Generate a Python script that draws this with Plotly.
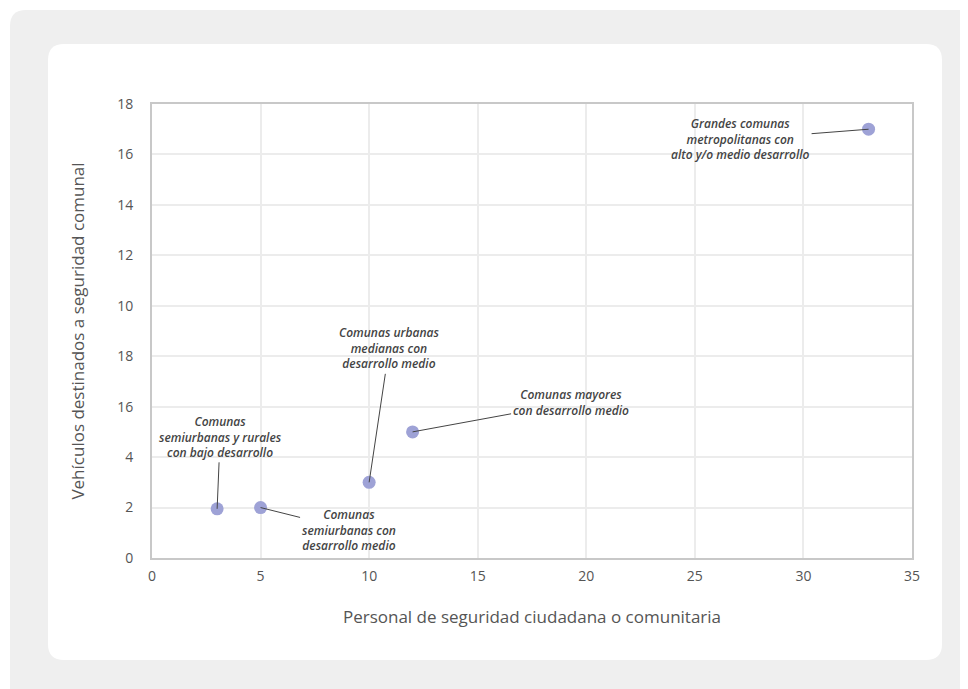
import plotly.graph_objects as go

# Data
personal = [3, 5, 10, 12, 33]
vehiculos = [1.95, 2, 3, 5, 17]
labels = [
    "Comunas<br>semiurbanas y rurales<br>con bajo desarrollo",
    "Comunas<br>semiurbanas con<br>desarrollo medio",
    "Comunas urbanas<br>medianas con<br>desarrollo medio",
    "Comunas mayores<br>con desarrollo medio",
    "Grandes comunas<br>metropolitanas con<br>alto y/o medio desarrollo",
]
# label offsets (pixels, relative to point)
label_ax = [3, 88, 20, 158, -128]
label_ay = [-72, 22, -134, -29, 10]

y_tickvals = [0, 2, 4, 6, 8, 10, 12, 14, 16, 18]
y_ticktext = ["0", "2", "4", "16", "18", "10", "12", "14", "16", "18"]
x_tickvals = [0, 5, 10, 15, 20, 25, 30, 35]

OFF = 8  # default page body margin
W, H = 968 - OFF, 689 - OFF
L, R, T, B = 152 - OFF, 56, 104 - OFF, 131
PW, PH = W - L - R, H - T - B


def px2paper(px, py):
    # px, py in page pixel coordinates
    px -= OFF
    py -= OFF
    return (px - L) / PW, (H - B - py) / PH


def rounded_path(x0, y0, x1, y1, r):
    def p(x, y):
        a, b = px2paper(x, y)
        return f"{a:.5f},{b:.5f}"
    return (
        f"M {p(x0 + r, y0)} L {p(x1 - r, y0)} Q {p(x1, y0)} {p(x1, y0 + r)} "
        f"L {p(x1, y1 - r)} Q {p(x1, y1)} {p(x1 - r, y1)} "
        f"L {p(x0 + r, y1)} Q {p(x0, y1)} {p(x0, y1 - r)} "
        f"L {p(x0, y0 + r)} Q {p(x0, y0)} {p(x0 + r, y0)} Z"
    )


fig = go.Figure()
fig.add_trace(go.Scatter(
    x=personal, y=vehiculos, mode="markers",
    marker=dict(size=13, color="#9ea2d6", line=dict(width=0)),
    hoverinfo="skip", showlegend=False,
))

shapes = [
    dict(type="path", xref="paper", yref="paper", layer="below",
         path=rounded_path(10, 10, 1000, 720, 16),
         fillcolor="#efefef", line=dict(width=0)),
    dict(type="path", xref="paper", yref="paper", layer="below",
         path=rounded_path(48, 44, 942, 660, 16),
         fillcolor="#ffffff", line=dict(width=0)),
]

annotations = []
for x, y, t, ax, ay in zip(personal, vehiculos, labels, label_ax, label_ay):
    annotations.append(dict(
        x=x, y=y, xref="x", yref="y", text=t, showarrow=True,
        ax=ax, ay=ay, axref="pixel", ayref="pixel",
        arrowhead=0, arrowwidth=1, arrowcolor="#444444", standoff=0,
        font=dict(family="Open Sans", size=12, color="#444444",
                  style="italic", weight=600),
        align="center",
    ))

fig.update_layout(
    width=W, height=H,
    margin=dict(l=L, r=R, t=T, b=B),
    paper_bgcolor="rgba(0,0,0,0)",
    plot_bgcolor="rgba(0,0,0,0)",
    shapes=shapes,
    annotations=annotations,
    font=dict(family="Open Sans", color="#555555"),
    xaxis=dict(
        range=[0, 35], tickvals=x_tickvals, showgrid=True,
        gridcolor="#ececec", gridwidth=2, zeroline=False,
        showline=True, linecolor="#c8c8c8", linewidth=2, mirror=True,
        tickfont=dict(size=14, color="#555555"), ticks="",
        ticklabelstandoff=4,
        title=dict(text="Personal de seguridad ciudadana o comunitaria",
                   font=dict(size=17, color="#555555"), standoff=27),
    ),
    yaxis=dict(
        range=[0, 18], tickvals=y_tickvals, ticktext=y_ticktext,
        showgrid=True, gridcolor="#ececec", gridwidth=2, zeroline=False,
        showline=True, linecolor="#c8c8c8", linewidth=2, mirror=True,
        tickfont=dict(size=14, color="#555555"), ticks="",
        ticklabelstandoff=14,
        title=dict(text="Vehículos destinados a seguridad comunal",
                   font=dict(size=17, color="#555555"), standoff=28),
    ),
)

fig.write_html("out.html")
